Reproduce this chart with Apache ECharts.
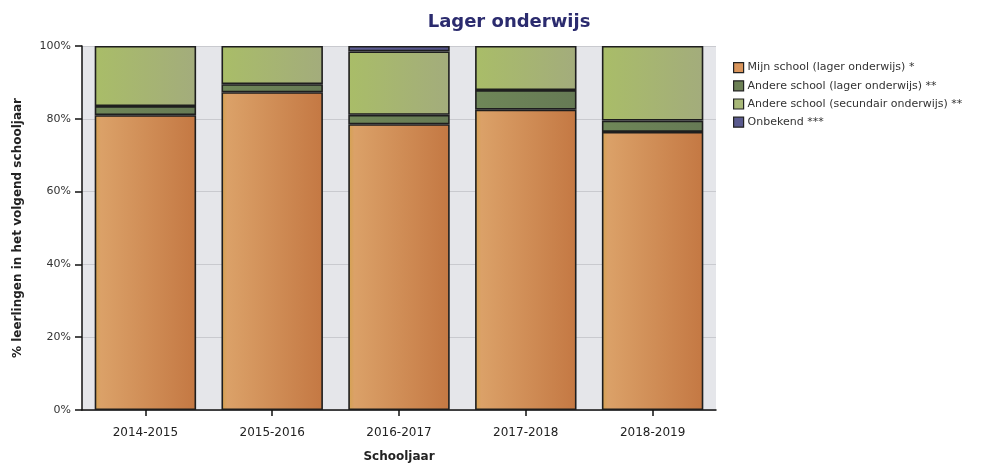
<!DOCTYPE html>
<html>
<head>
<meta charset="utf-8">
<script src="https://cdn.jsdelivr.net/npm/echarts@6/dist/echarts.min.js"></script>
<style>
  html, body { margin: 0; padding: 0; background: #ffffff; }
  #chart { width: 998px; height: 465px; }
</style>
</head>
<body>
<div id="chart"></div>
<script>
// School years on the x axis
const categories = ['2014-2015', '2015-2016', '2016-2017', '2017-2018', '2018-2019'];

// Share of pupils (%) per destination in the following school year
const mijnSchool = [81.0, 87.3, 78.5, 82.5, 76.4];
const andereLager = [2.5, 2.2, 2.6, 5.4, 3.1];
const andereSecundair = [16.5, 10.5, 17.4, 12.1, 20.5];
const onbekend = [0, 0, 1.5, 0, 0];

const seriesNames = [
  'Mijn school (lager onderwijs) *',
  'Andere school (lager onderwijs) **',
  'Andere school (secundair onderwijs) **',
  'Onbekend ***'
];

const yTicks = [0, 20, 40, 60, 80, 100];

const FONT = 'DejaVu Sans';

function hGrad(a, b) {
  return new echarts.graphic.LinearGradient(0, 0, 1, 0, [
    { offset: 0, color: a },
    { offset: 1, color: b }
  ]);
}

const fills = [
  new echarts.graphic.LinearGradient(0, 0, 1, 0, [
    { offset: 0, color: '#d4a24e' },
    { offset: 0.06, color: '#dba168' },
    { offset: 1, color: '#c47843' }
  ]),
  hGrad('#6f8758', '#667a55'),
  hGrad('#a9bd68', '#a3ac7c'),
  hGrad('#5f5f95', '#55558a')
];
const legendColors = ['#d9955c', '#6c8055', '#a8b878', '#5a5a8e'];

const dataSets = [mijnSchool, andereLager, andereSecundair, onbekend];

const chart = echarts.init(document.getElementById('chart'), null, { renderer: 'canvas' });

chart.setOption({
  animation: false,
  backgroundColor: '#ffffff',
  title: {
    text: 'Lager onderwijs',
    left: 504,
    textAlign: 'center',
    top: 8,
    textStyle: { fontFamily: FONT, fontSize: 18, fontWeight: 'bold', color: '#2b2b6e' }
  },
  legend: {
    orient: 'vertical',
    left: 728,
    top: 57,
    itemWidth: 10,
    itemHeight: 10,
    itemGap: 7,
    icon: 'rect',
    selectedMode: false,
    textStyle: { fontFamily: FONT, fontSize: 11, color: '#333333', padding: [0, 0, 0, -1] },
    data: seriesNames.map((n, i) => ({
      name: n,
      itemStyle: { color: legendColors[i], borderColor: '#222222', borderWidth: 1.2 }
    }))
  },
  grid: {
    left: 82,
    right: 282,
    top: 46,
    bottom: 55,
    containLabel: false,
    outerBoundsMode: 'none',
    show: true,
    backgroundColor: '#e5e6ea',
    borderWidth: 0
  },
  xAxis: {
    type: 'category',
    data: categories,
    name: 'Schooljaar',
    nameLocation: 'middle',
    nameGap: 41,
    nameTextStyle: { fontFamily: FONT, fontSize: 12, fontWeight: 'bold', color: '#222222' },
    axisLine: { show: true, lineStyle: { color: '#111111', width: 1.5 } },
    axisTick: { show: true, alignWithLabel: true, length: 6, lineStyle: { color: '#111111', width: 1.5 } },
    axisLabel: { fontFamily: FONT, fontSize: 12, color: '#222222', margin: 17 },
    splitLine: { show: false }
  },
  yAxis: {
    type: 'value',
    min: 0,
    max: 100,
    interval: 20,
    name: '% leerlingen in het volgend schooljaar',
    nameLocation: 'middle',
    nameGap: 58,
    nameTextStyle: { fontFamily: FONT, fontSize: 12, fontWeight: 'bold', color: '#222222' },
    axisLine: { show: true, lineStyle: { color: '#111111', width: 1.5 } },
    axisTick: { show: true, length: 7, lineStyle: { color: '#111111', width: 1.5 } },
    axisLabel: {
      fontFamily: FONT, fontSize: 11, color: '#333333', margin: 11,
      formatter: v => (yTicks.includes(v) ? v + '%' : '')
    },
    splitLine: { show: true, lineStyle: { color: '#c9cacf', width: 1 } }
  },
  series: dataSets.map((d, i) => ({
    name: seriesNames[i],
    type: 'bar',
    stack: 'total',
    barWidth: '80%',
    // empty segments are left out so no zero-height outline is drawn
    data: d.map(v => (v > 0 ? v : '-')),
    itemStyle: {
      color: fills[i],
      borderColor: '#1e1e1e',
      borderWidth: 1.6
    },
    emphasis: { disabled: true }
  }))
});
</script>
</body>
</html>
